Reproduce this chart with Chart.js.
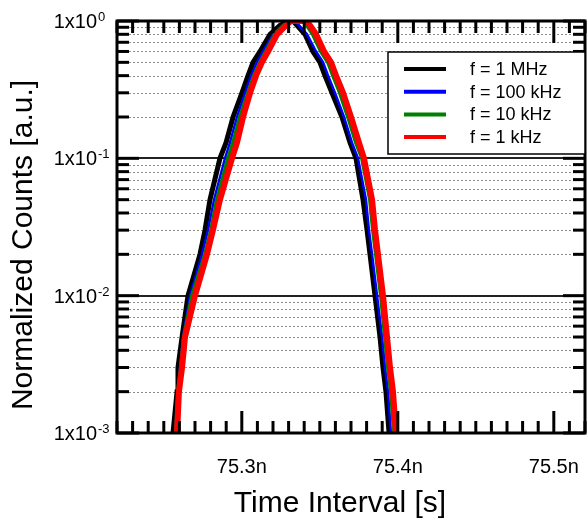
<!DOCTYPE html>
<html lang="en">
<head>
<meta charset="UTF-8">
<title>Normalized Counts vs Time Interval</title>
<script src="https://cdn.jsdelivr.net/npm/chart.js@4.4.0/dist/chart.umd.min.js"></script>
<style>body{margin:0;background:#fff}</style>
</head>
<body>
<canvas id="graph" width="587" height="523"></canvas>
<script>
// series names and colours
const seriesLabels = ['f = 1 MHz', 'f = 100 kHz', 'f = 10 kHz', 'f = 1 kHz'];
const seriesColors = ['#000000', '#0000ff', '#008000', '#ff0000'];
const seriesWidths = [5, 2.5, 4, 6];

// time interval in ns, normalized counts
const time1MHz = [75.2559, 75.2585, 75.2591, 75.2617, 75.2655, 75.2732, 75.2764, 75.2796, 75.2860, 75.2899, 75.2944, 75.3001, 75.3040, 75.3072, 75.3117, 75.3181, 75.3245, 75.3303,
                  75.3328, 75.3354, 75.3405, 75.3456, 75.3501, 75.3533, 75.3578, 75.3642, 75.3694, 75.3732, 75.3777, 75.3803, 75.3822, 75.3854, 75.3886, 75.3905, 75.3924, 75.3944];
const counts1MHz = [0.001, 0.002, 0.003, 0.005, 0.01, 0.02, 0.03, 0.05, 0.1, 0.13, 0.2, 0.3, 0.4, 0.5, 0.6, 0.8, 0.93, 1.0,
                    1.0, 0.93, 0.8, 0.6, 0.5, 0.4, 0.3, 0.2, 0.13, 0.1, 0.05, 0.03, 0.02, 0.01, 0.005, 0.003, 0.002, 0.001];

const time100kHz = [75.2572, 75.2591, 75.2604, 75.2623, 75.2668, 75.2745, 75.2783, 75.2822, 75.2892, 75.2924, 75.2969, 75.3021, 75.3059, 75.3097, 75.3136, 75.3200, 75.3258, 75.3309,
                    75.3341, 75.3367, 75.3418, 75.3476, 75.3521, 75.3553, 75.3597, 75.3655, 75.3706, 75.3745, 75.3796, 75.3815, 75.3835, 75.3867, 75.3899, 75.3918, 75.3937, 75.3956];
const counts100kHz = [0.001, 0.002, 0.003, 0.005, 0.01, 0.02, 0.03, 0.05, 0.1, 0.13, 0.2, 0.3, 0.4, 0.5, 0.6, 0.8, 0.93, 1.0,
                      1.0, 0.93, 0.8, 0.6, 0.5, 0.4, 0.3, 0.2, 0.13, 0.1, 0.05, 0.03, 0.02, 0.01, 0.005, 0.003, 0.002, 0.001];

const time10kHz = [75.2578, 75.2591, 75.2610, 75.2629, 75.2681, 75.2764, 75.2803, 75.2841, 75.2912, 75.2944, 75.2988, 75.3040, 75.3078, 75.3117, 75.3155, 75.3213, 75.3271, 75.3315,
                   75.3392, 75.3418, 75.3456, 75.3508, 75.3553, 75.3585, 75.3629, 75.3681, 75.3732, 75.3771, 75.3822, 75.3841, 75.3860, 75.3892, 75.3918, 75.3937, 75.3956, 75.3976];
const counts10kHz = [0.001, 0.002, 0.003, 0.005, 0.01, 0.02, 0.03, 0.05, 0.1, 0.13, 0.2, 0.3, 0.4, 0.5, 0.6, 0.8, 0.93, 1.0,
                     1.0, 0.93, 0.8, 0.6, 0.5, 0.4, 0.3, 0.2, 0.13, 0.1, 0.05, 0.03, 0.02, 0.01, 0.005, 0.003, 0.002, 0.001];

const time1kHz = [75.2585, 75.2597, 75.2617, 75.2636, 75.2700, 75.2777, 75.2815, 75.2860, 75.2937, 75.2969, 75.3008, 75.3053, 75.3091, 75.3129, 75.3168, 75.3226, 75.3283, 75.3315,
                  75.3412, 75.3437, 75.3476, 75.3527, 75.3572, 75.3604, 75.3649, 75.3700, 75.3751, 75.3783, 75.3835, 75.3854, 75.3873, 75.3905, 75.3931, 75.3950, 75.3969, 75.3988];
const counts1kHz = [0.001, 0.002, 0.003, 0.005, 0.01, 0.02, 0.03, 0.05, 0.1, 0.13, 0.2, 0.3, 0.4, 0.5, 0.6, 0.8, 0.93, 1.0,
                    1.0, 0.93, 0.8, 0.6, 0.5, 0.4, 0.3, 0.2, 0.13, 0.1, 0.05, 0.03, 0.02, 0.01, 0.005, 0.003, 0.002, 0.001];

// axis ticks
const xTickValues = [75.3, 75.4, 75.5];
const xTickLabels = ['75.3n', '75.4n', '75.5n'];
const yTickValues = [1, 0.1, 0.01, 0.001];
const yTickExps = ['0', '-1', '-2', '-3'];

const xTitle = 'Time Interval [s]';
const yTitle = 'Normalized Counts [a.u.]';

const FONT = '"Liberation Sans", Arial, sans-serif';

const allTimes = [time1MHz, time100kHz, time10kHz, time1kHz];
const allCounts = [counts1MHz, counts100kHz, counts10kHz, counts1kHz];

const datasets = seriesLabels.map((lab, i) => ({
    label: lab,
    data: allTimes[i].map((t, j) => ({x: t, y: allCounts[i][j]})),
    borderColor: seriesColors[i],
    backgroundColor: seriesColors[i],
    borderWidth: seriesWidths[i],
    pointRadius: 0,
    tension: 0,
    fill: false,
    clip: 0,
    order: 4 - i
}));

function line(ctx, x1, y1, x2, y2) {
    ctx.beginPath();
    ctx.moveTo(x1, y1);
    ctx.lineTo(x2, y2);
    ctx.stroke();
}

const framePlugin = {
    id: 'frame',
    beforeDatasetsDraw(chart) {
        const {ctx, chartArea: a, scales: {y}} = chart;
        ctx.save();
        // dotted minor grid
        ctx.strokeStyle = '#8c8c8c';
        ctx.lineWidth = 1;
        ctx.setLineDash([2, 2]);
        for (let e = -3; e < 0; e++) {
            for (let m = 2; m <= 9; m++) {
                const py = Math.round(y.getPixelForValue(m * Math.pow(10, e))) + 0.5;
                line(ctx, a.left, py, a.right, py);
            }
        }
        // solid decade lines
        ctx.setLineDash([]);
        ctx.strokeStyle = '#222';
        ctx.lineWidth = 2;
        [0.1, 0.01].forEach(v => {
            const py = Math.round(y.getPixelForValue(v));
            line(ctx, a.left, py, a.right, py);
        });
        ctx.restore();
    },
    afterDatasetsDraw(chart) {
        const {ctx, chartArea: a, scales: {x, y}} = chart;
        ctx.save();
        ctx.strokeStyle = '#000';
        ctx.lineCap = 'butt';

        // x ticks, top and bottom, pointing inward
        ctx.lineWidth = 3;
        for (let k = 7522; k <= 7552; k++) {
            const px = x.getPixelForValue(k / 100);
            const len = (k % 10 === 0) ? 22 : 12;
            line(ctx, px, a.bottom, px, a.bottom - len);
            line(ctx, px, a.top, px, a.top + len);
        }
        // y ticks, left and right
        for (let e = -3; e <= 0; e++) {
            for (let m = 1; m <= 9; m++) {
                const v = m * Math.pow(10, e);
                if (v > 1) break;
                const py = y.getPixelForValue(v);
                const len = (m === 1) ? 22 : 12;
                line(ctx, a.left, py, a.left + len, py);
                line(ctx, a.right, py, a.right - len, py);
            }
        }

        // frame
        ctx.lineWidth = 3;
        ctx.strokeRect(a.left, a.top, a.right - a.left, a.bottom - a.top);

        // tick labels
        ctx.fillStyle = '#000';
        ctx.font = '20px ' + FONT;
        ctx.textAlign = 'center';
        ctx.textBaseline = 'alphabetic';
        xTickValues.forEach((v, i) => {
            ctx.fillText(xTickLabels[i], x.getPixelForValue(v), a.bottom + 40);
        });
        yTickValues.forEach((v, i) => {
            const py = y.getPixelForValue(v);
            ctx.font = '20px ' + FONT;
            ctx.textAlign = 'right';
            ctx.fillText('1x10', a.left - 20, py + 7);
            ctx.font = '13px ' + FONT;
            ctx.textAlign = 'left';
            ctx.fillText(yTickExps[i], a.left - 19, py);
        });

        // axis titles
        ctx.font = '30px ' + FONT;
        ctx.textAlign = 'center';
        ctx.fillText(xTitle, 340, 512);
        ctx.save();
        ctx.translate(32, 245);
        ctx.rotate(-Math.PI / 2);
        ctx.fillText(yTitle, 0, 0);
        ctx.restore();

        // legend box
        const bx = 388, by = 52, bw = a.right - bx, bh = 102;
        ctx.fillStyle = '#fff';
        ctx.fillRect(bx, by, bw, bh);
        ctx.lineWidth = 1.5;
        ctx.strokeStyle = '#000';
        ctx.strokeRect(bx, by, bw, bh);
        ctx.font = '18px ' + FONT;
        ctx.textAlign = 'left';
        ctx.textBaseline = 'middle';
        chart.data.datasets.forEach((ds, i) => {
            const ly = by + 17 + i * 22.7;
            ctx.strokeStyle = ds.borderColor;
            ctx.lineWidth = 4;
            line(ctx, bx + 16, ly, bx + 58, ly);
            ctx.fillStyle = '#000';
            ctx.fillText(ds.label, bx + 82, ly + 1);
        });
        ctx.restore();
    }
};

const ctx = document.getElementById('graph').getContext('2d');
const myChart = new Chart(ctx, {
    type: 'line',
    data: {datasets: datasets},
    options: {
        responsive: false,
        animation: false,
        layout: {padding: {top: 21, right: 2, left: 0, bottom: 0}},
        plugins: {legend: {display: false}, tooltip: {enabled: false}},
        scales: {
            x: {
                type: 'linear', min: 75.22, max: 75.52,
                grid: {display: false}, border: {display: false}, ticks: {display: false},
                afterFit(s) { s.height = 90; }
            },
            y: {
                type: 'logarithmic', min: 0.001, max: 1,
                grid: {display: false}, border: {display: false}, ticks: {display: false},
                afterFit(s) { s.width = 117; }
            }
        }
    },
    plugins: [framePlugin]
});
</script>
</body>
</html>
